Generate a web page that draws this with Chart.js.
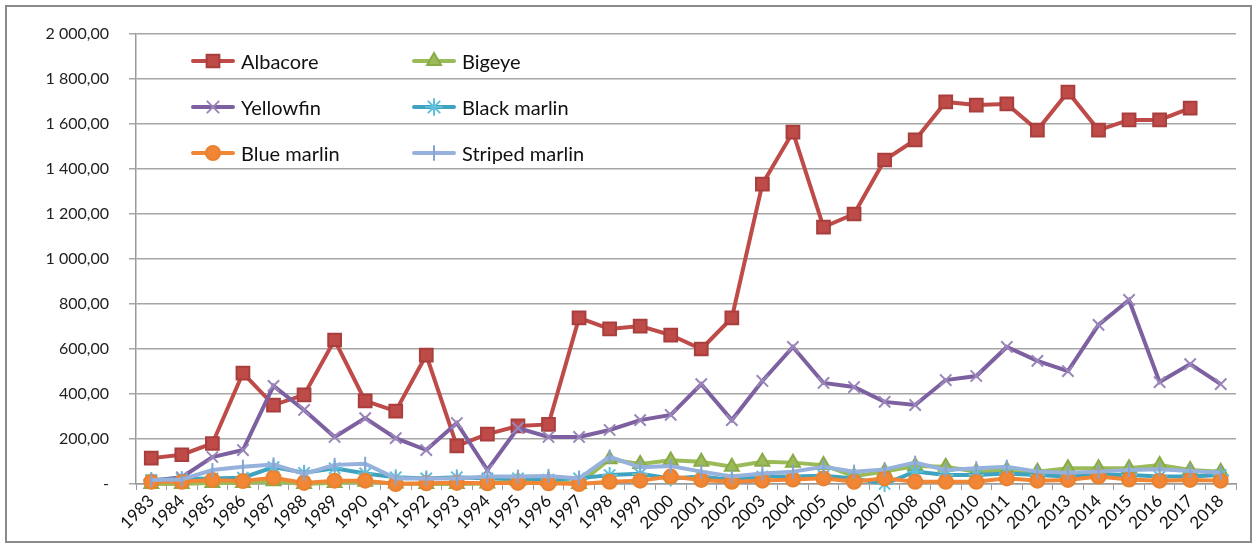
<!DOCTYPE html>
<html>
<head>
<meta charset="utf-8">
<script src="https://cdn.jsdelivr.net/npm/chart.js@4"></script>
<style>
  html,body{margin:0;padding:0;background:#fff;}
  #wrap{position:relative;width:1260px;height:547px;overflow:hidden;}
  #frame{position:absolute;left:5px;top:5px;width:1247px;height:538px;border:2px solid #8a8a8a;box-sizing:border-box;pointer-events:none;}
  #legend{position:absolute;left:190px;top:44px;font-family:Lato,"Open Sans",sans-serif;font-size:20px;color:#111;}
  .item{position:absolute;display:flex;align-items:center;white-space:nowrap;}
  .item canvas{margin-right:5px;}
</style>
</head>
<body>
<div id="wrap">
  <canvas id="c" width="1260" height="547"></canvas>
  <div id="frame"></div>
  <div id="legend"></div>
</div>
<script>
// Data
const years = ["1983","1984","1985","1986","1987","1988","1989","1990","1991","1992","1993","1994","1995","1996","1997","1998","1999","2000","2001","2002","2003","2004","2005","2006","2007","2008","2009","2010","2011","2012","2013","2014","2015","2016","2017","2018"];
const albacore = [115,130,180,493,351,396,640,369,324,573,169,222,258,265,738,689,702,662,600,738,1333,1564,1142,1200,1440,1529,1698,1684,1689,1573,1742,1573,1618,1618,1671,null];
const bigeye = [0,0,5,5,12,0,5,10,2,0,0,2,15,15,0,110,89,105,99,77,99,95,84,35,55,80,77,55,62,55,70,70,70,84,62,55];
const yellowfin = [15,30,120,151,436,329,209,293,204,151,271,62,249,209,209,240,284,307,444,284,458,609,449,431,365,351,462,480,609,547,502,707,818,453,533,444];
const blackMarlin = [18,22,25,28,75,50,70,47,30,25,30,25,25,20,25,40,45,25,33,18,33,33,37,25,0,55,40,40,47,40,33,40,40,33,33,40];
const blueMarlin = [10,10,18,13,28,5,15,15,0,3,5,3,5,3,0,10,15,33,18,10,15,20,25,10,25,10,10,10,25,15,18,33,20,15,18,15];
const stripedMarlin = [18,20,62,77,87,45,85,90,25,25,25,33,33,36,25,121,74,80,55,33,47,55,77,55,65,95,62,70,77,55,50,55,62,65,58,50];

const series = [
  { label:"Albacore", data:albacore, color:"#BE4B48", mFill:"#BE4B48", mLine:"#A83F3C", style:"rect", r:9 },
  { label:"Bigeye", data:bigeye, color:"#9BBB59", mFill:"#9BBB59", mLine:"#8AAA48", style:"triangle", r:8 },
  { label:"Yellowfin", data:yellowfin, color:"#7D60A0", mFill:"#7D60A0", mLine:"#9A86BA", style:"crossRot", r:8 },
  { label:"Black marlin", data:blackMarlin, color:"#3FA2BE", mFill:"#3FA2BE", mLine:"#5EC0DA", style:"star", r:8 },
  { label:"Blue marlin", data:blueMarlin, color:"#F08636", mFill:"#F08636", mLine:"#E8822F", style:"circle", r:7 },
  { label:"Striped marlin", data:stripedMarlin, color:"#95B1DC", mFill:"#95B1DC", mLine:"#86A4D2", style:"line", r:7, rot:90 }
];

const fmt = v => {
  if (v === 0) return "-";
  const [a,b] = v.toFixed(2).split(".");
  return a.replace(/\B(?=(\d{3})+(?!\d))/g, " ") + "," + b;
};

const font = { family:"Lato, 'Open Sans', sans-serif", size:16 };

new Chart(document.getElementById("c"), {
  type:"line",
  data:{
    labels:years,
    datasets: series.map((s,i)=>({
      label:s.label, data:s.data, order:series.length-i, clip:false,
      borderColor:s.color, borderWidth:4, tension:0,
      pointStyle:s.style, pointRadius:s.r, pointRotation:s.rot||0,
      pointBackgroundColor:s.mFill, pointBorderColor:s.mLine, pointBorderWidth:2,
      spanGaps:false
    }))
  },
  options:{
    responsive:false, animation:false,
    layout:{ padding:{ left:0, top:34, right:24, bottom:0 } },
    plugins:{ legend:{ display:false }, tooltip:{ enabled:false } },
    scales:{
      x:{
        offset:true,
        grid:{ offset:true, drawOnChartArea:false, drawTicks:true, tickLength:6, color:"#9a9a9a" },
        border:{ color:"#9a9a9a", width:1.5 },
        ticks:{ font:{ family:font.family, size:17 }, color:"#111", minRotation:45, maxRotation:45, autoSkip:false, padding:1 },
        afterFit: s => { s.height = 63; }
      },
      y:{
        min:0, max:2000,
        grid:{ color:"#a6a6a6", lineWidth:1.5, tickLength:7 },
        border:{ color:"#9a9a9a", width:1.5 },
        ticks:{ font, color:"#222", stepSize:200, padding:20, callback:v=>fmt(v) },
        afterFit: s => { s.width = 136; }
      }
    }
  }
});

// Legend (two columns, three rows, inside the plot)
const legend = document.getElementById("legend");
series.forEach((s,i)=>{
  const col = i % 2, row = Math.floor(i / 2);
  const item = document.createElement("div");
  item.className = "item";
  item.style.left = (col ? 221 : 0) + "px";
  item.style.top = (row * 46) + "px";
  const cv = document.createElement("canvas");
  cv.width = 46; cv.height = 34;
  const ctx = cv.getContext("2d");
  ctx.strokeStyle = s.color; ctx.lineWidth = 4; ctx.lineCap = "round";
  ctx.beginPath(); ctx.moveTo(3,17); ctx.lineTo(43,17); ctx.stroke();
  ctx.fillStyle = s.mFill; ctx.strokeStyle = s.mLine; ctx.lineWidth = 2;
  Chart.helpers.drawPoint(ctx, { pointStyle:s.style, radius:s.r, rotation:s.rot||0, borderWidth:2 }, 23, 17);
  const t = document.createElement("span");
  t.textContent = s.label;
  item.appendChild(cv); item.appendChild(t);
  legend.appendChild(item);
});
</script>
</body>
</html>
